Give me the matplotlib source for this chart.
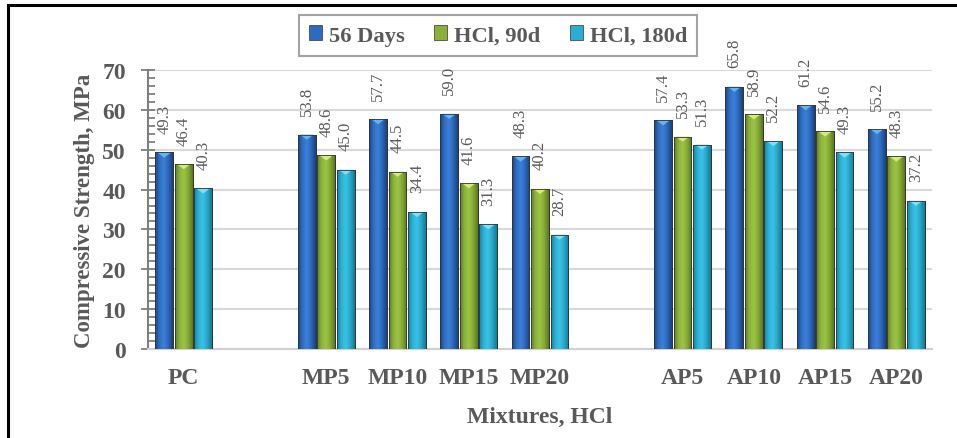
import matplotlib
matplotlib.use("Agg")
import matplotlib.pyplot as plt
import numpy as np
from matplotlib.colors import LinearSegmentedColormap
from matplotlib.patches import Rectangle, Polygon
from matplotlib.ticker import MultipleLocator

categories = ["PC", "", "MP5", "MP10", "MP15", "MP20", "", "AP5", "AP10", "AP15", "AP20"]
series_names = ["56 Days", "HCl, 90d", "HCl, 180d"]
days56 = [49.3, None, 53.8, 57.7, 59.0, 48.3, None, 57.4, 65.8, 61.2, 55.2]
hcl90 = [46.4, None, 48.6, 44.5, 41.6, 40.2, None, 53.3, 58.9, 54.6, 48.3]
hcl180 = [40.3, None, 45.0, 34.4, 31.3, 28.7, None, 51.3, 52.2, 49.3, 37.2]
values = [days56, hcl90, hcl180]

base_colors = ["#2e6bbf", "#8cb13a", "#2aaed2"]
grad_colors = [
    ["#1b4580", "#2f6fc6", "#3c80d8", "#2c66b8", "#1a427c"],
    ["#5f7d22", "#8db43b", "#9cc447", "#84a834", "#5a7720"],
    ["#16819e", "#2bb3d8", "#3cc2e4", "#27a5c8", "#147a96"],
]
cap_colors = ["#63b6ee", "#d8ea7a", "#7fe0f5"]

plt.rcParams['font.family'] = ['Liberation Serif', 'DejaVu Serif']
grey = "#595959"

fig = plt.figure(figsize=(9.57, 4.39), dpi=100)
ax = fig.add_axes([0.1547, 0.2027, 0.8192, 0.6356])

x = np.arange(len(categories))
width = 0.25
offsets = [-0.273, 0.0, 0.273]

ax.set_xlim(-0.5, len(categories) - 0.5)
ax.set_ylim(0, 70)

grad = np.linspace(0, 1, 64).reshape(1, -1)
for si, (vals, off) in enumerate(zip(values, offsets)):
    xs = [xi + off for xi, v in zip(x, vals) if v is not None]
    hs = [v for v in vals if v is not None]
    bars = ax.bar(xs, hs, width=width, color=base_colors[si], edgecolor="#2b2b2b",
                  linewidth=0.6, zorder=3, label=series_names[si])
    cmap = LinearSegmentedColormap.from_list("g%d" % si, grad_colors[si])
    for b, h in zip(bars, hs):
        x0 = b.get_x()
        w = b.get_width()
        im = ax.imshow(grad, cmap=cmap, extent=[x0, x0 + w, 0, h], aspect='auto',
                       zorder=3.5, interpolation='bicubic')
        im.set_clip_path(b)
        cap = Polygon([[x0 + 0.12 * w, h], [x0 + 0.88 * w, h], [x0 + 0.5 * w, h - 1.3]],
                      closed=True, facecolor=cap_colors[si], edgecolor='none', zorder=4)
        ax.add_patch(cap)
        ax.add_patch(Rectangle((x0, 0), w, h, fill=False, edgecolor="#333333",
                               linewidth=0.6, zorder=4.5))
        ax.annotate(f"{h:.1f}", xy=(x0 + w / 2, h), xytext=(0, 14), textcoords="offset points",
                    rotation=90, ha="center", va="bottom", fontsize=12, color=grey, zorder=5)

ax.set_xlim(-0.5, len(categories) - 0.5)
ax.set_ylim(0, 70)

ax.set_xticks(x)
ax.set_xticklabels(categories, fontsize=17, fontweight="bold", color=grey)
ax.tick_params(axis='x', length=0, pad=13)
ax.yaxis.set_major_locator(MultipleLocator(10))
ax.yaxis.set_minor_locator(MultipleLocator(2))
ax.tick_params(axis='y', which='major', direction='inout', length=10, width=1.3,
               color="#7f7f7f", labelsize=17, labelcolor=grey, pad=11)
ax.tick_params(axis='y', which='minor', direction='in', length=5, width=1.3, color="#7f7f7f")
for lab in ax.get_yticklabels():
    lab.set_fontweight("bold")

ax.grid(axis='y', color="#d9d9d9", linewidth=1.5, zorder=0)
ax.set_axisbelow(True)
for s in ["top", "right"]:
    ax.spines[s].set_visible(False)
ax.spines["left"].set_color("#7f7f7f")
ax.spines["left"].set_linewidth(1.5)
ax.spines["bottom"].set_color("#d0d0d0")
ax.spines["bottom"].set_linewidth(1.5)

ax.set_ylabel("Compressive Strength, MPa", fontsize=16.5, fontweight="bold", color=grey, labelpad=5.5)
ax.set_xlabel("Mixtures, HCl", fontsize=17, fontweight="bold", color=grey, labelpad=13)

handles = [Rectangle((0, 0), 1, 1, facecolor=base_colors[i], edgecolor="#333333", linewidth=0.5)
           for i in range(3)]
leg = fig.legend(handles, series_names, loc="center", bbox_to_anchor=(498 / 957, 1 - 36.5 / 439),
                 ncol=3, frameon=True, fancybox=False, edgecolor="#8c8c8c",
                 prop={'weight': 'bold', 'size': 16.2}, handlelength=0.6, handleheight=0.6,
                 handletextpad=0.3, columnspacing=1.3, borderpad=0.45)
leg.get_frame().set_linewidth(1.5)
for t in leg.get_texts():
    t.set_color(grey)

fig.patches.append(Rectangle((8 / 957, -0.05), 1.0, 1 - 6 / 439 + 0.05, transform=fig.transFigure,
                             fill=False, edgecolor="black", linewidth=2.2))

fig.savefig("out.png", dpi=100)
